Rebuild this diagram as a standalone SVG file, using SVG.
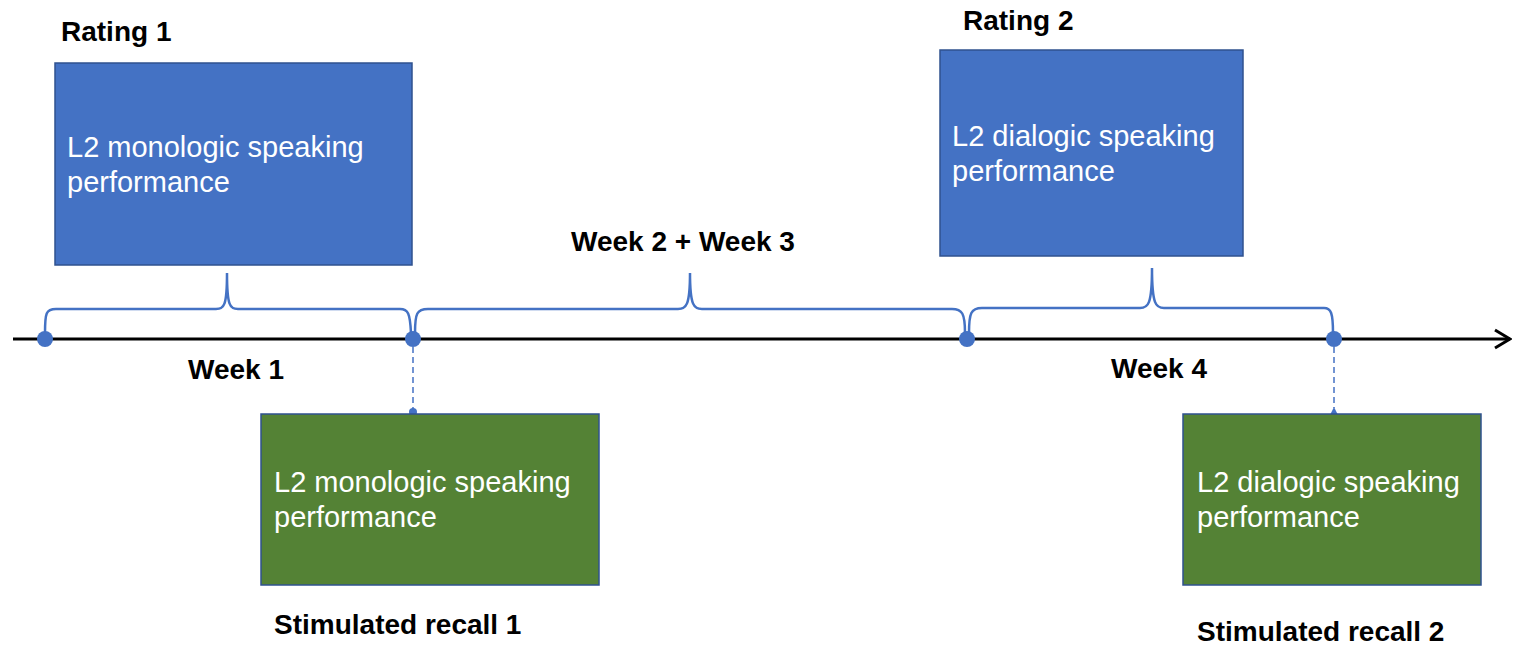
<svg xmlns="http://www.w3.org/2000/svg" width="1524" height="656" viewBox="0 0 1524 656">
<defs>
<style>
.lbl{font-family:"Liberation Sans",Arial,sans-serif;font-weight:bold;font-size:28px;fill:#000}
.btxt{font-family:"Liberation Sans",Arial,sans-serif;font-size:29px;fill:#fff}
.blue{fill:#4472C4;stroke:#2F528F;stroke-width:1.5}
.green{fill:#548235;stroke:#2F528F;stroke-width:1.5}
.brace{fill:none;stroke:#4472C4;stroke-width:2.5}
.dash{stroke:#4472C4;stroke-width:1.5;stroke-dasharray:6 4}
.dot{fill:#4472C4}
</style>
<marker id="arr" viewBox="0 0 20 24" refX="18" refY="12" markerWidth="20" markerHeight="24" markerUnits="userSpaceOnUse" orient="auto">
<path d="M3,3 L18,12 L3,21" fill="none" stroke="#000" stroke-width="3"/>
</marker>
</defs>
<rect width="1524" height="656" fill="#fff"/>
<g id="connectors">
<line x1="13" y1="339" x2="1510" y2="339" stroke="#000" stroke-width="3" marker-end="url(#arr)"/>
<path class="brace" d="M45,333 C45,313 46,309 56,309 H216 C224,309 227,306 227,273 C227,306 230,309 238,309 H400 C408,309 410,313 411,333"/>
<path class="brace" d="M415,333 C415,313 417,309 428,309 H678 C686,309 690,306 690,273 C690,306 694,309 702,309 H952 C962,309 965,313 965,333"/>
<path class="brace" d="M969,333 C969,313 971,308 982,308 H1140 C1148,308 1152,305 1152,268 C1152,305 1156,308 1164,308 H1324 C1331,308 1333,313 1333,333"/>
<line class="dash" x1="413" y1="347" x2="413" y2="410"/>
<circle class="dot" cx="413" cy="412" r="4"/>
<line class="dash" x1="1334" y1="347" x2="1334" y2="408"/>
<path class="dot" d="M1330,415 L1334,407 L1338,415 Z"/>
<circle class="dot" cx="45" cy="339" r="8"/>
<circle class="dot" cx="413" cy="339" r="8"/>
<circle class="dot" cx="967" cy="339" r="8"/>
<circle class="dot" cx="1334" cy="339" r="8"/>
</g>
<g id="rating1">
<text class="lbl" x="61" y="41">Rating 1</text>
<rect class="blue" x="55" y="63" width="357" height="202"/>
<text class="btxt" x="67" y="157">L2 monologic speaking</text>
<text class="btxt" x="67" y="192">performance</text>
</g>
<g id="rating2">
<text class="lbl" x="963" y="30">Rating 2</text>
<rect class="blue" x="940" y="50" width="303" height="206"/>
<text class="btxt" x="952" y="146">L2 dialogic speaking</text>
<text class="btxt" x="952" y="181">performance</text>
</g>
<g id="recall1">
<rect class="green" x="261" y="414" width="338" height="171"/>
<text class="btxt" x="274" y="492">L2 monologic speaking</text>
<text class="btxt" x="274" y="527">performance</text>
<text class="lbl" x="274" y="634">Stimulated recall 1</text>
</g>
<g id="recall2">
<rect class="green" x="1183" y="414" width="298" height="171"/>
<text class="btxt" x="1197" y="492">L2 dialogic speaking</text>
<text class="btxt" x="1197" y="527">performance</text>
<text class="lbl" x="1197" y="641">Stimulated recall 2</text>
</g>
<g id="weeks">
<text class="lbl" x="188" y="379">Week 1</text>
<text class="lbl" x="571" y="251">Week 2 + Week 3</text>
<text class="lbl" x="1111" y="378">Week 4</text>
</g>
</svg>
